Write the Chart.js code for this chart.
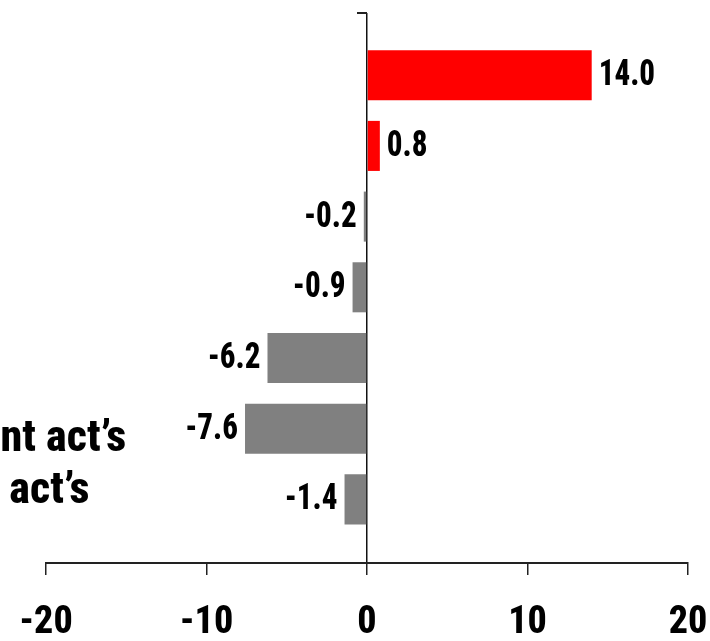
<!DOCTYPE html>
<html>
<head>
<meta charset="utf-8">
<script src="https://cdn.jsdelivr.net/npm/chart.js@4"></script>
<style>
  html, body { margin: 0; padding: 0; background: #fff; overflow: hidden; }
  #wrap { position: relative; width: 710px; height: 641px; overflow: hidden; }
  #wrap canvas { position: absolute; left: -178px; top: 0; }
</style>
</head>
<body>
<div id="wrap"><canvas id="chart" width="888" height="641"></canvas></div>
<script>
// bar values, top row first
const changes = [14.0, 0.8, -0.2, -0.9, -6.2, -7.6, -1.4];
const rows = [0, 1, 2, 3, 4, 5, 6];
// two-line caption sitting between the last two rows
const caption = ['Government act\u2019s', 'Provincial act\u2019s'];
const captionRow = 5.5;
const xTicks = [-20, -10, 0, 10, 20];

const RED = '#ff0000';
const GREY = '#808080';
const LEFT_CUT = 178; // part of the canvas pushed off the left edge
const FONT = "'Roboto Condensed', 'Open Sans Condensed', 'DejaVu Sans Condensed', sans-serif";
const WEIGHT = '800';
const yMin = -0.88, yMax = 6.9;

// draws text squeezed a little horizontally
function narrowText(ctx, text, x, y, squeeze) {
    ctx.save();
    ctx.translate(x, y);
    ctx.scale(squeeze, 1);
    ctx.fillText(text, 0, 0);
    ctx.restore();
}

const annotations = {
    id: 'annotations',
    afterDatasetsDraw(chart) {
        const ctx = chart.ctx;
        const { x, y } = chart.scales;
        const area = chart.chartArea;
        ctx.save();
        // small tick at the top of the zero line
        const x0 = x.getPixelForValue(0);
        ctx.strokeStyle = '#222';
        ctx.lineWidth = 2;
        ctx.beginPath();
        ctx.moveTo(x0 - 10, area.top);
        ctx.lineTo(x0, area.top);
        ctx.stroke();

        // value at the end of each bar
        ctx.font = WEIGHT + ' 36px ' + FONT;
        ctx.fillStyle = '#000';
        ctx.textBaseline = 'middle';
        chart.getDatasetMeta(0).data.forEach((bar, i) => {
            const v = changes[i];
            ctx.textAlign = v >= 0 ? 'left' : 'right';
            narrowText(ctx, v.toFixed(1), v >= 0 ? bar.x + 7 : bar.x - 7, bar.y + 1, 0.86);
        });

        // caption, left aligned on the axis edge
        ctx.font = WEIGHT + ' 44px ' + FONT;
        ctx.textAlign = 'left';
        ctx.textBaseline = 'alphabetic';
        const mid = y.getPixelForValue(captionRow);
        caption.forEach((line, i) => {
            ctx.fillText(line, y.left, mid + (i - 0.5) * 52 + 13);
        });
        ctx.restore();
    }
};

new Chart(document.getElementById('chart'), {
    type: 'bar',
    data: {
        datasets: [{
            data: changes.map((v, i) => ({ x: v, y: rows[i] })),
            backgroundColor: changes.map(v => v > 0 ? RED : GREY),
            borderWidth: 0,
            categoryPercentage: 0.8,
            barPercentage: 0.885
        }]
    },
    options: {
        indexAxis: 'y',
        responsive: false,
        animation: false,
        devicePixelRatio: 1,
        layout: { padding: { left: 0, top: 13, right: 22, bottom: 0 } },
        plugins: { legend: { display: false }, tooltip: { enabled: false } },
        scales: {
            x: {
                type: 'linear',
                min: -20,
                max: 20,
                afterBuildTicks: s => { s.ticks = xTicks.map(v => ({ value: v })); },
                afterFit: s => { s.height = 78; s.paddingLeft = 0; s.paddingRight = 0; },
                border: { display: true, color: '#222', width: 2 },
                grid: {
                    drawOnChartArea: true,
                    drawTicks: true,
                    tickLength: 12,
                    lineWidth: 1.5,
                    tickColor: '#222',
                    color: c => (c.tick && c.tick.value === 0) ? '#111' : 'rgba(0,0,0,0)'
                },
                ticks: {
                    padding: 26,
                    color: '#000',
                    font: { family: FONT, size: 38, weight: WEIGHT }
                }
            },
            y: {
                type: 'linear',
                min: yMin,
                max: yMax,
                reverse: true,
                offset: false,
                afterBuildTicks: s => { s.ticks = rows.map(v => ({ value: v })); },
                afterFit: s => { s.width = 46 + LEFT_CUT; },
                border: { display: false },
                grid: { display: false },
                ticks: { display: false }
            }
        }
    },
    plugins: [annotations]
});
</script>
</body>
</html>
